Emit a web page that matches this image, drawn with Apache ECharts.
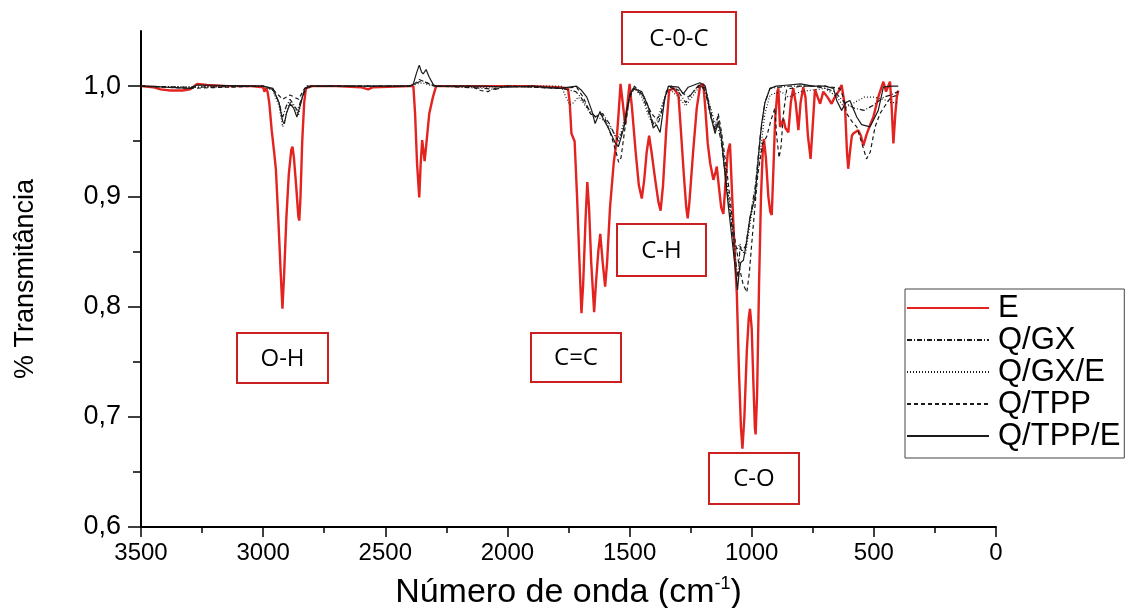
<!DOCTYPE html>
<html>
<head>
<meta charset="utf-8">
<script src="https://cdn.jsdelivr.net/npm/echarts@6/dist/echarts.min.js"></script>
<style>
html,body{margin:0;padding:0;background:#fff;}
#chart{width:1145px;height:608px;}
</style>
</head>
<body>
<div id="chart"></div>
<script>
// Series names (legend order)
const seriesNames = ['E', 'Q/GX', 'Q/GX/E', 'Q/TPP', 'Q/TPP/E'];

// [wavenumber (cm-1), transmittance]
const E = [[3500,1.000],[3450,0.999],[3420,0.997],[3380,0.996],[3330,0.996],[3300,0.997],[3270,1.002],[3230,1.001],[3150,1.000],[3050,1.000],[3000,0.999],[2995,0.995],[2988,0.998],[2982,0.995],[2975,0.985],[2965,0.96],[2955,0.94],[2948,0.925],[2938,0.88],[2928,0.83],[2921,0.798],[2914,0.83],[2905,0.88],[2895,0.92],[2885,0.942],[2880,0.945],[2874,0.935],[2865,0.91],[2856,0.882],[2852,0.878],[2847,0.9],[2840,0.95],[2832,0.985],[2825,0.998],[2800,1.0],[2700,1.0],[2600,0.999],[2570,0.997],[2550,0.999],[2400,1.0],[2385,1.0],[2378,0.975],[2370,0.93],[2361,0.899],[2355,0.93],[2349,0.951],[2343,0.94],[2339,0.932],[2333,0.945],[2320,0.975],[2305,0.99],[2292,1.0],[2200,1.0],[2100,1.0],[2000,1.0],[1900,1.0],[1800,0.999],[1752,0.998],[1745,0.985],[1738,0.957],[1725,0.950],[1715,0.9],[1705,0.84],[1697,0.794],[1690,0.82],[1680,0.88],[1673,0.913],[1666,0.89],[1657,0.84],[1645,0.795],[1638,0.82],[1628,0.85],[1620,0.866],[1610,0.84],[1600,0.818],[1592,0.84],[1580,0.89],[1565,0.93],[1553,0.951],[1545,0.975],[1537,1.002],[1528,0.985],[1518,0.965],[1508,0.985],[1500,1.002],[1490,0.98],[1475,0.94],[1462,0.91],[1450,0.898],[1440,0.915],[1430,0.94],[1420,0.955],[1410,0.94],[1395,0.915],[1382,0.895],[1373,0.887],[1363,0.91],[1350,0.96],[1338,0.996],[1320,0.998],[1300,0.992],[1290,0.96],[1278,0.92],[1268,0.89],[1262,0.880],[1255,0.895],[1240,0.94],[1225,0.98],[1212,0.999],[1198,1.002],[1190,0.98],[1180,0.948],[1170,0.93],[1157,0.915],[1148,0.922],[1143,0.927],[1135,0.91],[1125,0.89],[1116,0.884],[1108,0.91],[1098,0.94],[1089,0.948],[1080,0.9],[1070,0.85],[1061,0.812],[1052,0.74],[1044,0.69],[1038,0.671],[1030,0.7],[1020,0.76],[1012,0.79],[1007,0.798],[1000,0.78],[993,0.73],[987,0.69],[984,0.684],[978,0.72],[970,0.82],[962,0.9],[954,0.945],[950,0.952],[942,0.935],[932,0.9],[924,0.886],[918,0.883],[912,0.92],[904,0.97],[895,0.995],[891,0.998],[884,0.963],[877,0.963],[870,0.97],[862,0.962],[850,0.958],[840,0.985],[830,0.998],[820,0.985],[809,0.96],[800,0.985],[789,0.999],[780,0.99],[770,0.955],[759,0.934],[750,0.965],[741,0.997],[730,0.99],[720,0.984],[707,0.995],[690,0.99],[673,0.984],[660,0.99],[645,0.995],[632,1.001],[618,0.981],[610,0.94],[605,0.925],[598,0.94],[590,0.955],[584,0.957],[564,0.96],[553,0.955],[543,0.946],[530,0.956],[515,0.965],[502,0.972],[482,0.99],[461,1.004],[450,0.995],[434,1.004],[428,0.985],[420,0.948],[412,0.975],[406,0.99],[400,0.996]];

const QGX = [[3500,1.0],[3300,0.999],[3000,1.0],[2960,0.997],[2935,0.985],[2920,0.972],[2905,0.982],[2890,0.988],[2860,0.978],[2840,0.99],[2820,1.0],[2400,1.0],[2370,1.003],[2350,1.005],[2320,1.002],[2290,1.0],[2100,0.998],[2050,0.997],[2000,1.0],[1780,0.998],[1720,0.995],[1700,0.99],[1670,0.98],[1640,0.972],[1610,0.975],[1580,0.965],[1560,0.955],[1545,0.95],[1520,0.965],[1500,0.99],[1480,1.0],[1450,0.993],[1420,0.975],[1400,0.965],[1380,0.968],[1360,0.985],[1340,1.0],[1300,0.995],[1270,0.985],[1240,0.995],[1212,1.002],[1190,0.995],[1165,0.97],[1150,0.96],[1140,0.965],[1125,0.95],[1100,0.905],[1080,0.87],[1065,0.84],[1055,0.825],[1048,0.855],[1040,0.85],[1025,0.855],[1007,0.88],[985,0.91],[965,0.955],[946,0.985],[925,0.998],[850,1.0],[750,1.0],[700,0.998],[660,0.995],[620,0.985],[580,0.98],[540,0.978],[500,0.983],[460,0.99],[430,0.992],[400,0.995]];

const QGXE = [[3500,1.0],[3300,0.999],[3000,1.0],[2960,0.996],[2935,0.982],[2920,0.963],[2910,0.97],[2892,0.986],[2870,0.98],[2855,0.974],[2840,0.99],[2820,1.0],[2400,1.0],[2370,1.002],[2350,1.003],[2320,1.001],[2290,1.0],[2100,0.999],[2000,1.0],[1780,1.0],[1760,0.99],[1745,0.983],[1730,0.985],[1710,0.99],[1690,0.985],[1660,0.975],[1630,0.972],[1600,0.968],[1570,0.96],[1550,0.952],[1535,0.958],[1515,0.975],[1500,0.99],[1480,0.998],[1450,0.99],[1420,0.972],[1405,0.965],[1385,0.97],[1360,0.988],[1340,0.998],[1300,0.99],[1270,0.982],[1245,0.99],[1212,1.0],[1190,0.998],[1165,0.978],[1150,0.965],[1137,0.973],[1125,0.958],[1100,0.91],[1080,0.875],[1065,0.85],[1048,0.857],[1040,0.85],[1025,0.848],[1007,0.875],[985,0.905],[965,0.94],[946,0.975],[925,0.992],[880,0.995],[850,0.99],[800,0.995],[700,0.998],[650,0.99],[620,0.98],[580,0.985],[540,0.99],[500,0.99],[460,0.988],[430,0.985],[400,0.985]];

const QTPP = [[3500,1.0],[3300,0.998],[3000,1.0],[2960,0.997],[2920,0.988],[2890,0.992],[2855,0.988],[2830,0.998],[2800,1.0],[2400,1.0],[2380,1.002],[2361,1.006],[2340,1.004],[2310,1.001],[2300,1.0],[2150,1.0],[2110,0.996],[2080,0.995],[2050,0.998],[2000,1.0],[1800,0.998],[1717,0.999],[1690,0.99],[1660,0.975],[1640,0.972],[1620,0.975],[1600,0.97],[1575,0.955],[1555,0.94],[1545,0.931],[1535,0.935],[1520,0.96],[1500,0.99],[1480,0.998],[1440,0.99],[1410,0.975],[1390,0.97],[1370,0.975],[1350,0.995],[1330,1.0],[1290,0.995],[1260,0.99],[1212,1.001],[1190,0.998],[1165,0.975],[1150,0.96],[1137,0.975],[1125,0.96],[1100,0.92],[1075,0.87],[1050,0.835],[1035,0.82],[1020,0.813],[1010,0.83],[995,0.87],[975,0.92],[955,0.948],[939,0.954],[920,0.97],[905,0.98],[898,0.955],[888,0.935],[880,0.945],[870,0.975],[857,0.997],[800,1.0],[700,1.0],[640,0.998],[625,0.99],[611,0.975],[590,0.968],[570,0.963],[545,0.945],[530,0.934],[515,0.94],[495,0.963],[475,0.975],[461,0.98],[430,0.99],[400,0.992]];

const QTPPE = [[3500,1.0],[3400,0.999],[3300,0.998],[3270,1.001],[3000,1.0],[2960,0.998],[2935,0.985],[2920,0.968],[2913,0.966],[2905,0.975],[2890,0.984],[2875,0.98],[2862,0.972],[2855,0.971],[2845,0.985],[2830,0.998],[2800,1.0],[2400,1.0],[2385,1.002],[2372,1.012],[2361,1.019],[2352,1.013],[2345,1.011],[2333,1.015],[2320,1.008],[2305,1.002],[2295,1.0],[2100,1.0],[2000,0.999],[1900,1.0],[1785,0.998],[1717,1.0],[1696,0.996],[1675,0.99],[1655,0.978],[1641,0.966],[1621,0.977],[1607,0.97],[1587,0.962],[1560,0.949],[1546,0.945],[1526,0.96],[1510,0.98],[1498,0.993],[1485,0.998],[1450,0.995],[1423,0.981],[1403,0.962],[1390,0.965],[1375,0.958],[1355,0.99],[1341,1.0],[1300,0.999],[1280,0.993],[1260,0.999],[1212,1.003],[1190,1.0],[1170,0.975],[1150,0.957],[1137,0.968],[1125,0.955],[1105,0.91],[1085,0.87],[1065,0.83],[1058,0.815],[1052,0.83],[1045,0.84],[1034,0.842],[1020,0.86],[1007,0.881],[986,0.9],[973,0.935],[960,0.965],[946,0.985],[925,0.998],[900,1.0],[850,1.001],[800,1.002],[750,1.0],[700,1.0],[665,0.998],[652,0.987],[632,0.978],[615,0.985],[598,0.987],[585,0.98],[570,0.972],[550,0.965],[516,0.963],[500,0.97],[482,0.978],[461,0.999],[430,1.0],[400,1.0]];

const yMajorTicks = [0.6, 0.7, 0.8, 0.9, 1.0];
const yMinorTicks = [0.65, 0.75, 0.85, 0.95];

// Band annotations
const bandLabels = ['O-H', 'C=C', 'C-H', 'C-0-C', 'C-O'];

const chart = echarts.init(document.getElementById('chart'), null, {renderer: 'canvas'});

const boxRects = [
  {x: 237, y: 333, w: 91, h: 50},
  {x: 531, y: 333, w: 90, h: 49},
  {x: 617, y: 224, w: 89, h: 52},
  {x: 622, y: 12, w: 114, h: 52},
  {x: 709, y: 453, w: 90, h: 51}
];
const graphics = [];
bandLabels.forEach((t, i) => {
  const b = boxRects[i];
  graphics.push({
    type: 'rect', z: 100,
    shape: {x: b.x, y: b.y, width: b.w, height: b.h},
    style: {fill: '#fff', stroke: '#cc1f1f', lineWidth: 2}
  });
  graphics.push({
    type: 'text', z: 101,
    x: b.x + b.w / 2, y: b.y + b.h / 2 + 1,
    style: {text: t, fill: '#000', font: '24px "Open Sans", "Noto Sans", sans-serif', textAlign: 'center', textVerticalAlign: 'middle'}
  });
});

const blackStyles = [
  [5, 2, 1, 2],
  [1, 2],
  [4, 3],
  'solid'
];
const blackData = [QGX, QGXE, QTPP, QTPPE];

const series = [{
  name: seriesNames[0], type: 'line', data: E, showSymbol: false, symbol: 'none',
  lineStyle: {color: '#e3231f', width: 2.4}, itemStyle: {color: '#e3231f'}, z: 2
}];
blackData.forEach((d, i) => {
  series.push({
    name: seriesNames[i + 1], type: 'line', data: d, showSymbol: false, symbol: 'none',
    lineStyle: {color: '#1a1a1a', width: 1.2, type: blackStyles[i]}, itemStyle: {color: '#1a1a1a'}, z: 3
  });
});

const option = {
  animation: false,
  backgroundColor: '#fff',
  grid: {left: 141, right: 149, top: 31, bottom: 81, containLabel: false, outerBoundsMode: 'none'},
  legend: {
    orient: 'vertical', left: 905, top: 289,
    itemWidth: 82, itemHeight: 14, itemGap: 0,
    padding: [3, 4, 6, 1],
    borderColor: '#444', borderWidth: 1,
    itemStyle: {opacity: 0},
    textStyle: {fontFamily: '"Liberation Sans", Arial, sans-serif', fontSize: 31, color: '#000', lineHeight: 32, padding: [0, 0, 0, 4]},
    data: seriesNames
  },
  xAxis: {
    type: 'value', inverse: true, min: 0, max: 3500, interval: 500,
    name: 'Número de onda (cm{sup|-1})', nameLocation: 'middle', nameGap: 48,
    nameTextStyle: {fontFamily: '"Liberation Sans", Arial, sans-serif', fontSize: 34, color: '#000',
      rich: {sup: {fontSize: 18, fontFamily: '"Liberation Sans", Arial, sans-serif', color: '#000', padding: [0, 0, 17, 0]}}},
    axisLine: {onZero: false, lineStyle: {color: '#000', width: 2}},
    axisTick: {show: true, length: 10, lineStyle: {color: '#000', width: 1.5}},
    minorTick: {show: true, splitNumber: 2, length: 6, lineStyle: {color: '#000', width: 1.5}},
    axisLabel: {fontFamily: '"Liberation Sans", Arial, sans-serif', fontSize: 24, color: '#000', margin: 14,
      formatter: v => String(v)},
    splitLine: {show: false}
  },
  yAxis: [{
    type: 'value', min: 0.6, max: 1.05, interval: 0.1, position: 'left',
    name: '% Transmitância', nameLocation: 'middle', nameGap: 102, nameRotate: 90,
    nameTextStyle: {fontFamily: '"Liberation Sans", Arial, sans-serif', fontSize: 27, color: '#000'},
    axisLine: {onZero: false, lineStyle: {color: '#000', width: 2}},
    axisTick: {show: true, length: 13, customValues: yMajorTicks, lineStyle: {color: '#000', width: 1.5}},
    axisLabel: {customValues: yMajorTicks, fontFamily: '"Liberation Sans", Arial, sans-serif', fontSize: 27, color: '#000', margin: 20,
      formatter: v => v.toFixed(1).replace('.', ',')},
    splitLine: {show: false}
  }, {
    type: 'value', min: 0.6, max: 1.05, interval: 0.1, position: 'left',
    axisLine: {show: false, onZero: false},
    axisTick: {show: true, length: 8, customValues: yMinorTicks, lineStyle: {color: '#000', width: 1.5}},
    axisLabel: {show: false},
    splitLine: {show: false}
  }],
  graphic: graphics,
  series: series
};
chart.setOption(option);
</script>
</body>
</html>
